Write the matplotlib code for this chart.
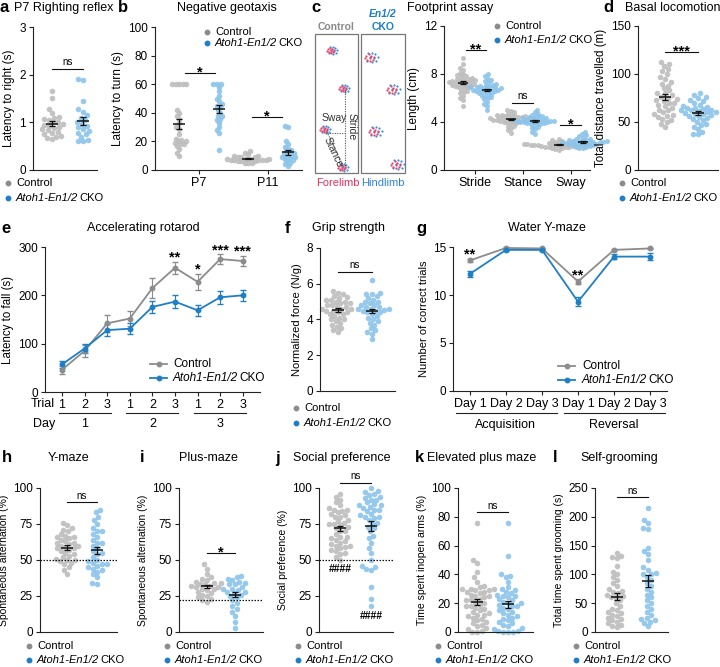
import numpy as np
import matplotlib
matplotlib.use("Agg")
import matplotlib.pyplot as plt
from matplotlib.lines import Line2D
from matplotlib.patches import Rectangle
from matplotlib import transforms

plt.rcParams['font.family'] = ['Liberation Sans', 'DejaVu Sans']
plt.rcParams['axes.linewidth'] = 0.8

W, H = 720, 667

CTRL_DOT = '#bdbdbd'
CKO_DOT = '#8cc4ea'
CTRL_LINE = '#8c8c8c'
CKO_LINE = '#1e7fc6'

# ---- data ----
# a: P7 righting reflex (s)
righting_ctrl = [1.65, 1.52, 1.28, 1.2, 1.12, 1.08, 1.05, 1.0, 1.0, 0.97, 0.95, 0.93,
                 0.9, 0.88, 0.85, 0.83, 0.8, 0.78, 0.75, 0.72, 0.7, 0.68, 0.65, 1.1]
righting_cko = [1.9, 1.88, 1.45, 1.27, 1.22, 1.15, 1.1, 1.05, 1.0, 0.97, 0.92, 0.9,
                0.85, 0.82, 0.78, 0.75, 0.7, 0.62, 0.6, 0.6]

# b: negative geotaxis (s)
geo_days = ['P7', 'P11']
geo_p7_ctrl = [60, 60, 60, 60, 60, 42, 40, 38, 36, 33, 30, 25, 22, 21, 20, 20, 19, 18,
               18, 17, 15, 12, 10, 29]
geo_p7_cko = [60, 60, 60, 58, 55, 52, 50, 48, 46, 45, 44, 42, 40, 38, 36, 35, 33, 30,
              28, 26, 14, 38]
geo_p11_ctrl = [13, 12, 11, 10, 10, 9, 9, 9, 8, 8, 8, 8, 7, 7, 7, 7, 7, 6, 6, 6, 5, 5, 5, 8]
geo_p11_cko = [31, 30, 20, 18, 16, 15, 14, 13, 12, 12, 11, 10, 10, 9, 8, 8, 7, 6, 5, 4, 3, 9]

# c: footprint (cm)
foot_params = ['Stride', 'Stance', 'Sway']
stride_ctrl = [9.3, 8.8, 8.5, 8.3, 8.1, 8.0, 7.9, 7.8, 7.7, 7.6, 7.6, 7.5, 7.5, 7.4, 7.4,
               7.3, 7.3, 7.3, 7.2, 7.2, 7.1, 7.1, 7.0, 7.0, 6.9, 6.9, 6.8, 6.7, 6.6, 6.5,
               6.4, 6.2, 6.0, 5.8, 5.3, 7.6, 7.4, 7.2, 7.0, 7.8]
stride_cko = [8.0, 7.8, 7.6, 7.4, 7.3, 7.2, 7.1, 7.0, 7.0, 6.9, 6.9, 6.8, 6.8, 6.8, 6.7,
              6.7, 6.7, 6.6, 6.6, 6.5, 6.5, 6.4, 6.4, 6.3, 6.2, 6.1, 6.0, 5.9, 5.7, 5.5,
              5.3, 5.0, 6.9, 7.1, 6.6, 6.2, 7.5, 6.8]
stance_ctrl = [5.0, 4.9, 4.8, 4.7, 4.6, 4.6, 4.5, 4.5, 4.4, 4.4, 4.4, 4.3, 4.3, 4.3, 4.3,
               4.2, 4.2, 4.2, 4.2, 4.1, 4.1, 4.1, 4.0, 4.0, 3.9, 3.9, 3.8, 3.7, 3.6, 3.5,
               3.3, 3.1, 4.3, 4.4, 4.2, 4.5, 4.6, 4.1]
stance_cko = [5.0, 4.8, 4.7, 4.6, 4.5, 4.4, 4.4, 4.3, 4.3, 4.2, 4.2, 4.2, 4.1, 4.1, 4.1,
              4.1, 4.0, 4.0, 4.0, 3.9, 3.9, 3.8, 3.8, 3.7, 3.6, 3.5, 3.4, 3.2, 3.0, 4.2,
              4.1, 4.3, 4.0, 3.9, 4.5]
sway_ctrl = [2.6, 2.5, 2.4, 2.35, 2.3, 2.3, 2.25, 2.2, 2.2, 2.2, 2.15, 2.15, 2.1, 2.1,
             2.1, 2.1, 2.05, 2.05, 2.0, 2.0, 2.0, 1.95, 1.95, 1.9, 1.9, 1.85, 1.8, 1.75,
             1.7, 2.1, 2.2, 2.0, 2.15, 2.05]
sway_cko = [3.2, 3.0, 2.9, 2.8, 2.7, 2.6, 2.55, 2.5, 2.45, 2.4, 2.4, 2.35, 2.3, 2.3, 2.3,
            2.25, 2.25, 2.2, 2.2, 2.15, 2.1, 2.1, 2.05, 2.0, 1.95, 1.9, 1.85, 1.8, 2.3,
            2.4, 2.2, 2.5]

# d: basal locomotion (m)
loco_ctrl = [112, 110, 108, 105, 103, 100, 97, 95, 92, 90, 88, 85, 83, 80, 78, 76, 75, 73,
             72, 70, 68, 67, 65, 63, 62, 60, 58, 57, 56, 55, 53, 52, 50, 48, 45, 70, 74, 80]
loco_cko = [80, 78, 76, 75, 73, 72, 70, 68, 67, 66, 65, 64, 63, 62, 61, 60, 60, 59, 58, 57,
            56, 55, 54, 53, 52, 50, 48, 47, 45, 43, 40, 38, 37, 62, 65, 58]

# e: accelerating rotarod (s)
rota_trials = ['1', '2', '3', '1', '2', '3', '1', '2', '3']
rota_days = ['1', '2', '3']
rota_ctrl = [46, 85, 142, 152, 215, 257, 228, 275, 271]
rota_ctrl_err = [8, 12, 18, 16, 20, 13, 16, 10, 10]
rota_cko = [57, 90, 128, 131, 176, 187, 169, 196, 200]
rota_cko_err = [8, 10, 12, 12, 13, 13, 12, 14, 12]
rota_sig = ['', '', '', '', '', '**', '*', '***', '***']

# f: grip strength (N/g)
grip_ctrl = [5.6, 5.5, 5.4, 5.3, 5.25, 5.2, 5.1, 5.0, 5.0, 4.9, 4.8, 4.8, 4.7, 4.7, 4.6,
             4.6, 4.5, 4.5, 4.4, 4.4, 4.3, 4.2, 4.1, 4.0, 4.0, 3.9, 3.8, 3.7, 3.6, 3.5,
             3.4, 3.3, 4.6, 4.9, 5.1, 4.3]
grip_cko = [6.2, 5.5, 5.45, 5.4, 5.3, 5.2, 5.1, 5.0, 4.9, 4.8, 4.7, 4.7, 4.6, 4.6, 4.55,
            4.5, 4.5, 4.4, 4.3, 4.2, 4.1, 4.0, 3.9, 3.8, 3.7, 3.5, 3.4, 3.3, 3.2, 2.9,
            4.6, 4.8, 5.0, 4.4]

# g: water Y-maze (correct trials)
wym_days = ['Day 1', 'Day 2', 'Day 3', 'Day 1', 'Day 2', 'Day 3']
wym_phases = ['Acquisition', 'Reversal']
wym_ctrl = [13.6, 14.9, 14.85, 11.4, 14.7, 14.85]
wym_ctrl_err = [0.12, 0.06, 0.06, 0.25, 0.1, 0.08]
wym_cko = [12.2, 14.7, 14.7, 9.3, 14.0, 14.0]
wym_cko_err = [0.35, 0.12, 0.12, 0.45, 0.3, 0.4]
wym_sig = ['**', '', '', '**', '', '']

# h: Y-maze (%)
ymaze_ctrl = [76, 74, 72, 71, 70, 68, 67, 66, 65, 64, 63, 62, 61, 60, 60, 59, 58, 57, 56,
              55, 54, 53, 52, 51, 50, 50, 49, 48, 47, 45, 43, 40, 62, 66, 58]
ymaze_cko = [85, 83, 80, 78, 75, 72, 70, 68, 66, 64, 62, 60, 58, 56, 55, 54, 52, 50, 49,
             48, 47, 47, 46, 45, 44, 43, 42, 40, 38, 34, 33, 62, 70]

# i: plus-maze (%)
plus_ctrl = [47, 44, 40, 38, 37, 36, 35, 34, 33, 33, 32, 32, 31, 30, 30, 29, 28, 27, 26,
             25, 24, 23, 22, 21, 34, 31]
plus_cko = [39, 38, 37, 36, 35, 34, 33, 31, 30, 29, 28, 27, 26, 25, 24, 22, 20, 18, 16,
            14, 11, 7, 3, 30, 28, 33]

# j: social preference (%)
social_ctrl = [96, 94, 92, 90, 88, 86, 85, 84, 83, 82, 81, 80, 80, 78, 77, 76, 75, 74, 73,
               72, 70, 68, 66, 65, 64, 63, 62, 61, 60, 60, 59, 58, 57, 56, 55, 54, 52, 50,
               85, 75, 70, 66]
social_cko = [100, 98, 97, 96, 95, 94, 93, 92, 90, 89, 88, 87, 86, 85, 84, 82, 81, 80, 79,
              78, 76, 75, 73, 72, 70, 67, 65, 62, 58, 55, 50, 46, 45, 44, 43, 31, 23, 18,
              88, 80, 85, 92]

# k: elevated plus maze (%)
epm_ctrl = [76, 50, 48, 42, 38, 35, 32, 31, 30, 30, 29, 29, 28, 27, 26, 25, 25, 24, 23, 22,
            21, 20, 19, 18, 17, 16, 15, 14, 13, 12, 11, 10, 9, 8, 7, 6, 5, 4, 3, 2, 1, 0,
            30, 22, 18, 28, 12, 0]
epm_cko = [76, 53, 40, 39, 38, 35, 31, 30, 29, 28, 27, 26, 25, 24, 23, 22, 21, 20, 19, 18,
           17, 16, 15, 14, 13, 12, 11, 10, 9, 8, 7, 6, 5, 4, 3, 2, 1, 1, 0, 0, 0, 20, 25, 18]

# l: self-grooming (s)
groom_ctrl = [137, 132, 130, 128, 115, 105, 100, 95, 90, 85, 80, 75, 72, 70, 68, 65, 62, 60,
              55, 50, 45, 40, 38, 35, 33, 30, 28, 25, 22, 20, 18, 15, 12, 10, 8, 60]
groom_cko = [215, 195, 190, 180, 178, 145, 140, 135, 125, 112, 108, 103, 100, 95, 90, 85, 80,
             75, 70, 65, 60, 55, 50, 45, 40, 35, 30, 25, 22, 20, 18, 16, 10, 100]

# footprint schematic: print centres (px) and toe pattern
fp_ctrl_centres = [(332, 50), (344, 88), (325, 129), (343, 167)]
fp_cko_centres = [(371, 57), (393, 89), (375, 131), (397, 164)]
toe_red = [(-3, -1), (-1, -2), (1, -1), (3, 0), (0, 1), (-2, 2), (2, 2), (0, 3), (-4, 1)]
toe_blue = [(-2, -3), (1, -3), (3, -2), (-1, 0), (2, 1), (-3, 3), (1, 4), (4, 3), (5, 0)]


fig = plt.figure(figsize=(7.2, 6.67), dpi=100)
renderer = fig.canvas.get_renderer()


def add_ax(x0, y0, x1, y1):
    ax = fig.add_axes([x0 / W, 1 - y1 / H, (x1 - x0) / W, (y1 - y0) / H])
    for s in ['top', 'right']:
        ax.spines[s].set_visible(False)
    for s in ['left', 'bottom']:
        ax.spines[s].set_color('#222222')
    ax.tick_params(labelsize=8.5, length=3, width=0.8, color='#222222', pad=2)
    return ax


def ftext(x, y, s, **kw):
    kw.setdefault('fontsize', 9)
    kw.setdefault('va', 'center')
    return fig.text(x / W, 1 - y / H, s, **kw)


def cko_text(x, y, fs=8):
    # italic gene name followed by upright "CKO"
    t = ftext(x, y, 'Atoh1-En1/2', fontsize=fs, style='italic')
    bb = t.get_window_extent(renderer)
    ftext(bb.x1 + fs * 0.12, y, 'CKO', fontsize=fs)


def title(letter, lx, text, tx, y, ha='left'):
    ftext(lx, y, letter, fontsize=12, fontweight='bold')
    ftext(tx, y, text, ha=ha)


def swarm(ax, xc, vals, color, d_px=5.0, s=16):
    vals = np.asarray(vals, float)
    T = ax.transData
    ypx = T.transform(np.column_stack([np.full(len(vals), xc), vals]))[:, 1]
    xscale = T.transform((1, 0))[0] - T.transform((0, 0))[0]
    placed = []
    xs = np.zeros(len(vals))
    for i in np.argsort(ypx):
        y = ypx[i]
        iv = []
        for px, py in placed:
            dy = abs(py - y)
            if dy < d_px:
                w = np.sqrt(d_px ** 2 - dy ** 2)
                iv.append((px - w, px + w))
        cands = sorted([0.0] + [a for a, b in iv] + [b for a, b in iv], key=abs)
        for c in cands:
            if all(not (a + 1e-6 < c < b - 1e-6) for a, b in iv):
                break
        xs[i] = c
        placed.append((c, y))
    ax.scatter(xc + xs / xscale, vals, s=s, color=color, lw=0, alpha=0.9,
               zorder=2, clip_on=False)


def mean_sem(ax, x, vals, ms=9):
    v = np.asarray(vals, float)
    m = v.mean()
    se = v.std(ddof=1) / np.sqrt(len(v))
    ax.errorbar(x, m, yerr=se, fmt='none', ecolor='#111111', elinewidth=0.9,
                capsize=2.5, capthick=0.9, zorder=4)
    ax.plot([x], [m], marker='_', ms=ms, mew=1.1, color='#111111', zorder=4)


def sig_bar(ax, x0, x1, y, label):
    ax.plot([x0, x1], [y, y], color='#111111', lw=0.8, clip_on=False)
    if label == 'ns':
        ax.annotate('ns', ((x0 + x1) / 2, y), xytext=(0, 1.2), textcoords='offset points',
                    ha='center', va='bottom', fontsize=7, annotation_clip=False)
    else:
        ax.annotate(label, ((x0 + x1) / 2, y), xytext=(0, -4.5), textcoords='offset points',
                    ha='center', va='bottom', fontsize=10.5, fontweight='bold',
                    annotation_clip=False)


def legend_dots(xd, y1, y2, xt=None, fs=8):
    xt = xd + 8 if xt is None else xt
    for y, c in [(y1, CTRL_LINE), (y2, CKO_LINE)]:
        fig.add_artist(Line2D([xd / W], [1 - y / H], marker='o', ms=3.2, color=c, ls='',
                              transform=fig.transFigure))
    ftext(xt, y1, 'Control', fontsize=fs)
    cko_text(xt, y2, fs)


def legend_lines(x0, x1, y1, y2, xt, fs=8.5):
    for y, c in [(y1, CTRL_LINE), (y2, CKO_LINE)]:
        fig.add_artist(Line2D([x0 / W, x1 / W], [1 - y / H] * 2, lw=1.3, color=c,
                              transform=fig.transFigure))
        fig.add_artist(Line2D([(x0 + x1) / 2 / W], [1 - y / H], marker='o', ms=3.2,
                              color=c, ls='', transform=fig.transFigure))
    ftext(xt, y1, 'Control', fontsize=fs)
    cko_text(xt, y2, fs)


def dot_panel(rect, xlim, ylim, yticks, ctrl, cko, ylabel, sig, sig_y, lab_fs=7.5):
    ax = add_ax(*rect)
    ax.set_xlim(*xlim)
    ax.set_ylim(*ylim)
    ax.set_yticks(yticks)
    ax.set_xticks([])
    ax.set_ylabel(ylabel, fontsize=lab_fs, labelpad=3)
    swarm(ax, 0, ctrl, CTRL_DOT)
    swarm(ax, 1, cko, CKO_DOT)
    mean_sem(ax, 0, ctrl)
    mean_sem(ax, 1, cko)
    sig_bar(ax, 0, 1, sig_y, sig)
    return ax


# ---------------- row 1 ----------------
# a
ax = dot_panel((33, 27, 97, 170), (-0.62, 1.46), (0, 3), [0, 1, 2, 3],
               righting_ctrl, righting_cko, 'Latency to right (s)', 'ns', 2.12, lab_fs=8.5)
title('a', 0, 'P7 Righting reflex', 14, 8)
legend_dots(8, 183, 198)

# b
ax = add_ax(155, 27, 302, 170)
ax.set_xlim(-0.64, 1.49)
ax.set_ylim(0, 100)
ax.set_yticks([0, 20, 40, 60, 80, 100])
ax.set_xticks([0, 1])
ax.set_xticklabels(geo_days, fontsize=9)
ax.set_ylabel('Latency to turn (s)', fontsize=8.5, labelpad=3)
for xc, c_vals, k_vals in [(0, geo_p7_ctrl, geo_p7_cko), (1, geo_p11_ctrl, geo_p11_cko)]:
    swarm(ax, xc - 0.29, c_vals, CTRL_DOT, d_px=3.6)
    swarm(ax, xc + 0.29, k_vals, CKO_DOT, d_px=3.6)
    mean_sem(ax, xc - 0.29, c_vals)
    mean_sem(ax, xc + 0.29, k_vals)
sig_bar(ax, -0.2, 0.23, 68, '*')
sig_bar(ax, 0.77, 1.2, 37, '*')
title('b', 118, 'Negative geotaxis', 227, 8, ha='center')
legend_dots(207, 32, 43, xt=215)

# c schematic
axs = fig.add_axes([308 / W, 1 - 190 / H, 104 / W, 180 / H])
axs.set_xlim(308, 412)
axs.set_ylim(190, 10)
axs.axis('off')
axs.add_patch(Rectangle((315, 34), 43, 139, fill=False, ec='#777777', lw=0.9))
axs.add_patch(Rectangle((361, 34), 44, 139, fill=False, ec='#777777', lw=0.9))
for centres, spread in [(fp_ctrl_centres, 1.0), (fp_cko_centres, 1.3)]:
    for cx, cy in centres:
        axs.scatter([cx + dx * spread for dx, dy in toe_blue],
                    [cy + dy * spread for dx, dy in toe_blue], s=2.5, color='#3b8fd8', lw=0)
        axs.scatter([cx + dx * spread - 1 for dx, dy in toe_red],
                    [cy + dy * spread for dx, dy in toe_red], s=2.5, color='#e8416a', lw=0)
axs.plot([345, 345], [91, 166], ls=(0, (1, 1.2)), color='#555555', lw=0.8)
axs.plot([327, 345], [133, 133], ls=(0, (1, 1.2)), color='#555555', lw=0.8)
axs.plot([327, 343], [132, 166], ls=(0, (1, 1.2)), color='#555555', lw=0.8)
axs.text(334, 118, 'Sway', fontsize=7.5, ha='center', va='center', color='#333333')
axs.text(352, 127, 'Stride', fontsize=7.5, ha='center', va='center', rotation=-90,
         color='#333333')
axs.text(333, 152, 'Stance', fontsize=7.5, ha='center', va='center', rotation=-65,
         color='#333333')
axs.text(336, 27, 'Control', fontsize=7.5, ha='center', va='center', color='#8a8a8a',
         fontweight='bold')
axs.text(383, 14, 'En1/2', fontsize=7.5, ha='center', va='center', color=CKO_LINE,
         fontweight='bold', style='italic')
axs.text(383, 27, 'CKO', fontsize=7.5, ha='center', va='center', color=CKO_LINE,
         fontweight='bold')
axs.text(338, 183, 'Forelimb', fontsize=8, ha='center', va='center', color='#e8315a')
axs.text(383, 183, 'Hindlimb', fontsize=8, ha='center', va='center', color='#2f86d4')

# c scatter
ax = add_ax(444, 26, 590, 170)
ax.set_xlim(-0.65, 2.4)
ax.set_ylim(0, 12)
ax.set_yticks([0, 4, 8, 12])
ax.set_xticks([0, 1, 2])
ax.set_xticklabels(foot_params, fontsize=9)
ax.set_ylabel('Length (cm)', fontsize=8.5, labelpad=3)
for xc, c_vals, k_vals in [(0, stride_ctrl, stride_cko), (1, stance_ctrl, stance_cko),
                           (2, sway_ctrl, sway_cko)]:
    swarm(ax, xc - 0.25, c_vals, CTRL_DOT, d_px=3.6, s=13)
    swarm(ax, xc + 0.25, k_vals, CKO_DOT, d_px=3.6, s=13)
    mean_sem(ax, xc - 0.25, c_vals, ms=7)
    mean_sem(ax, xc + 0.25, k_vals, ms=7)
sig_bar(ax, -0.2, 0.22, 10, '**')
sig_bar(ax, 0.78, 1.2, 5.6, 'ns')
sig_bar(ax, 1.78, 2.22, 3.75, '*')
title('c', 311, 'Footprint assay', 450, 8, ha='center')
legend_dots(497, 26, 40, xt=505)

# d
ax = dot_panel((638, 26, 718, 170), (-0.82, 1.6), (0, 150), [0, 50, 100, 150],
               loco_ctrl, loco_cko, 'Total distance travelled (m)', '***', 123, lab_fs=8.3)
title('d', 603, 'Basal locomotion', 625, 8)
legend_dots(622, 183, 198)

# ---------------- row 2 ----------------
# e
ax = add_ax(45, 247, 260, 392)
ax.set_xlim(-0.75, 8.76)
ax.set_ylim(0, 300)
ax.set_yticks([0, 100, 200, 300])
x = np.arange(len(rota_ctrl))
ax.errorbar(x, rota_ctrl, yerr=rota_ctrl_err, color=CTRL_LINE, marker='o', ms=3.2, lw=1.3,
            capsize=2, elinewidth=0.8, clip_on=False, zorder=3)
ax.errorbar(x, rota_cko, yerr=rota_cko_err, color=CKO_LINE, marker='o', ms=3.2, lw=1.3,
            capsize=2, elinewidth=0.8, clip_on=False, zorder=3)
ax.set_xticks(x)
ax.set_xticklabels(rota_trials, fontsize=9)
ax.set_ylabel('Latency to fall (s)', fontsize=8.3, labelpad=3)
for i, s in enumerate(rota_sig):
    if s:
        top = rota_ctrl[i] + rota_ctrl_err[i]
        ax.annotate(s, (i, top), xytext=(0, -2), textcoords='offset points', ha='center',
                    va='bottom', fontsize=10.5, fontweight='bold', annotation_clip=False)
tr = transforms.blended_transform_factory(ax.transData, ax.transAxes)
ax.text(-0.3, -0.085, 'Trial', transform=tr, ha='right', va='center', fontsize=9)
ax.text(-0.3, -0.22, 'Day', transform=tr, ha='right', va='center', fontsize=9)
for d, lab in enumerate(rota_days):
    ax.plot([3 * d - 0.15, 3 * d + 2.15], [-0.145, -0.145], transform=tr, color='#222222',
            lw=0.8, clip_on=False)
    ax.text(3 * d + 1, -0.22, lab, transform=tr, ha='center', va='center', fontsize=9)
title('e', 1, 'Accelerating rotarod', 143, 228, ha='center')
legend_lines(150, 167, 364, 378, 173)

# f
ax = dot_panel((320, 248, 395, 391), (-0.53, 1.68), (0, 8), [0, 2, 4, 6, 8],
               grip_ctrl, grip_cko, 'Normalized force (N/g)', 'ns', 6.65, lab_fs=8)
title('f', 285, 'Grip strength', 312, 228)
legend_dots(296, 408, 423)

# g
ax = add_ax(453, 247, 667, 391)
ax.set_xlim(-0.47, 5.47)
ax.set_ylim(0, 15)
ax.set_yticks([0, 5, 10, 15])
x = np.arange(len(wym_ctrl))
ax.errorbar(x, wym_ctrl, yerr=wym_ctrl_err, color=CTRL_LINE, marker='o', ms=3.2, lw=1.3,
            capsize=2, elinewidth=0.8, clip_on=False, zorder=3)
ax.errorbar(x, wym_cko, yerr=wym_cko_err, color=CKO_LINE, marker='o', ms=3.2, lw=1.3,
            capsize=2, elinewidth=0.8, clip_on=False, zorder=3)
ax.set_xticks(x)
ax.set_xticklabels(wym_days, fontsize=9)
ax.set_ylabel('Number of correct trials', fontsize=8, labelpad=3)
for i, s in enumerate(wym_sig):
    if s:
        ax.annotate(s, (i, wym_ctrl[i]), xytext=(0, -1), textcoords='offset points',
                    ha='center', va='bottom', fontsize=10.5, fontweight='bold',
                    annotation_clip=False)
tr = transforms.blended_transform_factory(ax.transData, ax.transAxes)
for p, lab in enumerate(wym_phases):
    ax.plot([3 * p - 0.38, 3 * p + 2.42], [-0.15, -0.15], transform=tr, color='#222222',
            lw=0.8, clip_on=False)
    ax.text(3 * p + 1, -0.235, lab, transform=tr, ha='center', va='center', fontsize=9)
title('g', 416, 'Water Y-maze', 547, 228, ha='center')
legend_lines(558, 575, 366, 380, 582)

# ---------------- row 3 ----------------
# h
ax = dot_panel((40, 488, 117, 632), (-0.9, 1.67), (0, 100), [0, 25, 50, 75, 100],
               ymaze_ctrl, ymaze_cko, 'Spontaneous alternation (%)', 'ns', 90)
ax.axhline(50, ls=(0, (1.2, 1.2)), color='#111111', lw=0.9, zorder=3)
title('h', 2, 'Y-maze', 68, 458, ha='center')
legend_dots(29, 646, 660)

# i
ax = dot_panel((179, 488, 263, 632), (-1.0, 2.0), (0, 100), [0, 25, 50, 75, 100],
               plus_ctrl, plus_cko, 'Spontaneous alternation (%)', '*', 55)
ax.axhline(22.2, ls=(0, (1.2, 1.2)), color='#111111', lw=0.9, zorder=3)
title('i', 140, 'Plus-maze', 208, 458, ha='center')
legend_dots(167, 646, 660)

# j
ax = dot_panel((319, 488, 393, 632), (-0.68, 1.7), (0, 100), [0, 25, 50, 75, 100],
               social_ctrl, social_cko, 'Social preference (%)', 'ns', 103.5)
ax.axhline(50, ls=(0, (1.2, 1.2)), color='#111111', lw=0.9, zorder=3)
ax.text(0, 44, '####', ha='center', va='center', fontsize=7.5, fontweight='bold')
ax.text(1, 11, '####', ha='center', va='center', fontsize=7.5, fontweight='bold')
title('j', 275, 'Social preference', 342, 458, ha='center')
legend_dots(298, 646, 660)

# k
ax = dot_panel((458, 488, 533, 632), (-0.61, 1.8), (0, 100), [0, 20, 40, 60, 80, 100],
               epm_ctrl, epm_cko, 'Time spent inopen arms (%)', 'ns', 83)
title('k', 415, 'Elevated plus maze', 427, 458)
legend_dots(438, 646, 660)

# l
ax = dot_panel((595, 488, 668, 632), (-0.71, 1.65), (0, 250), [0, 50, 100, 150, 200, 250],
               groom_ctrl, groom_cko, 'Total time spent grooming (s)', 'ns', 234)
title('l', 553, 'Self-grooming', 619, 458, ha='center')
legend_dots(576, 646, 660)

fig.savefig('out.png', dpi=100)
plt.close(fig)
